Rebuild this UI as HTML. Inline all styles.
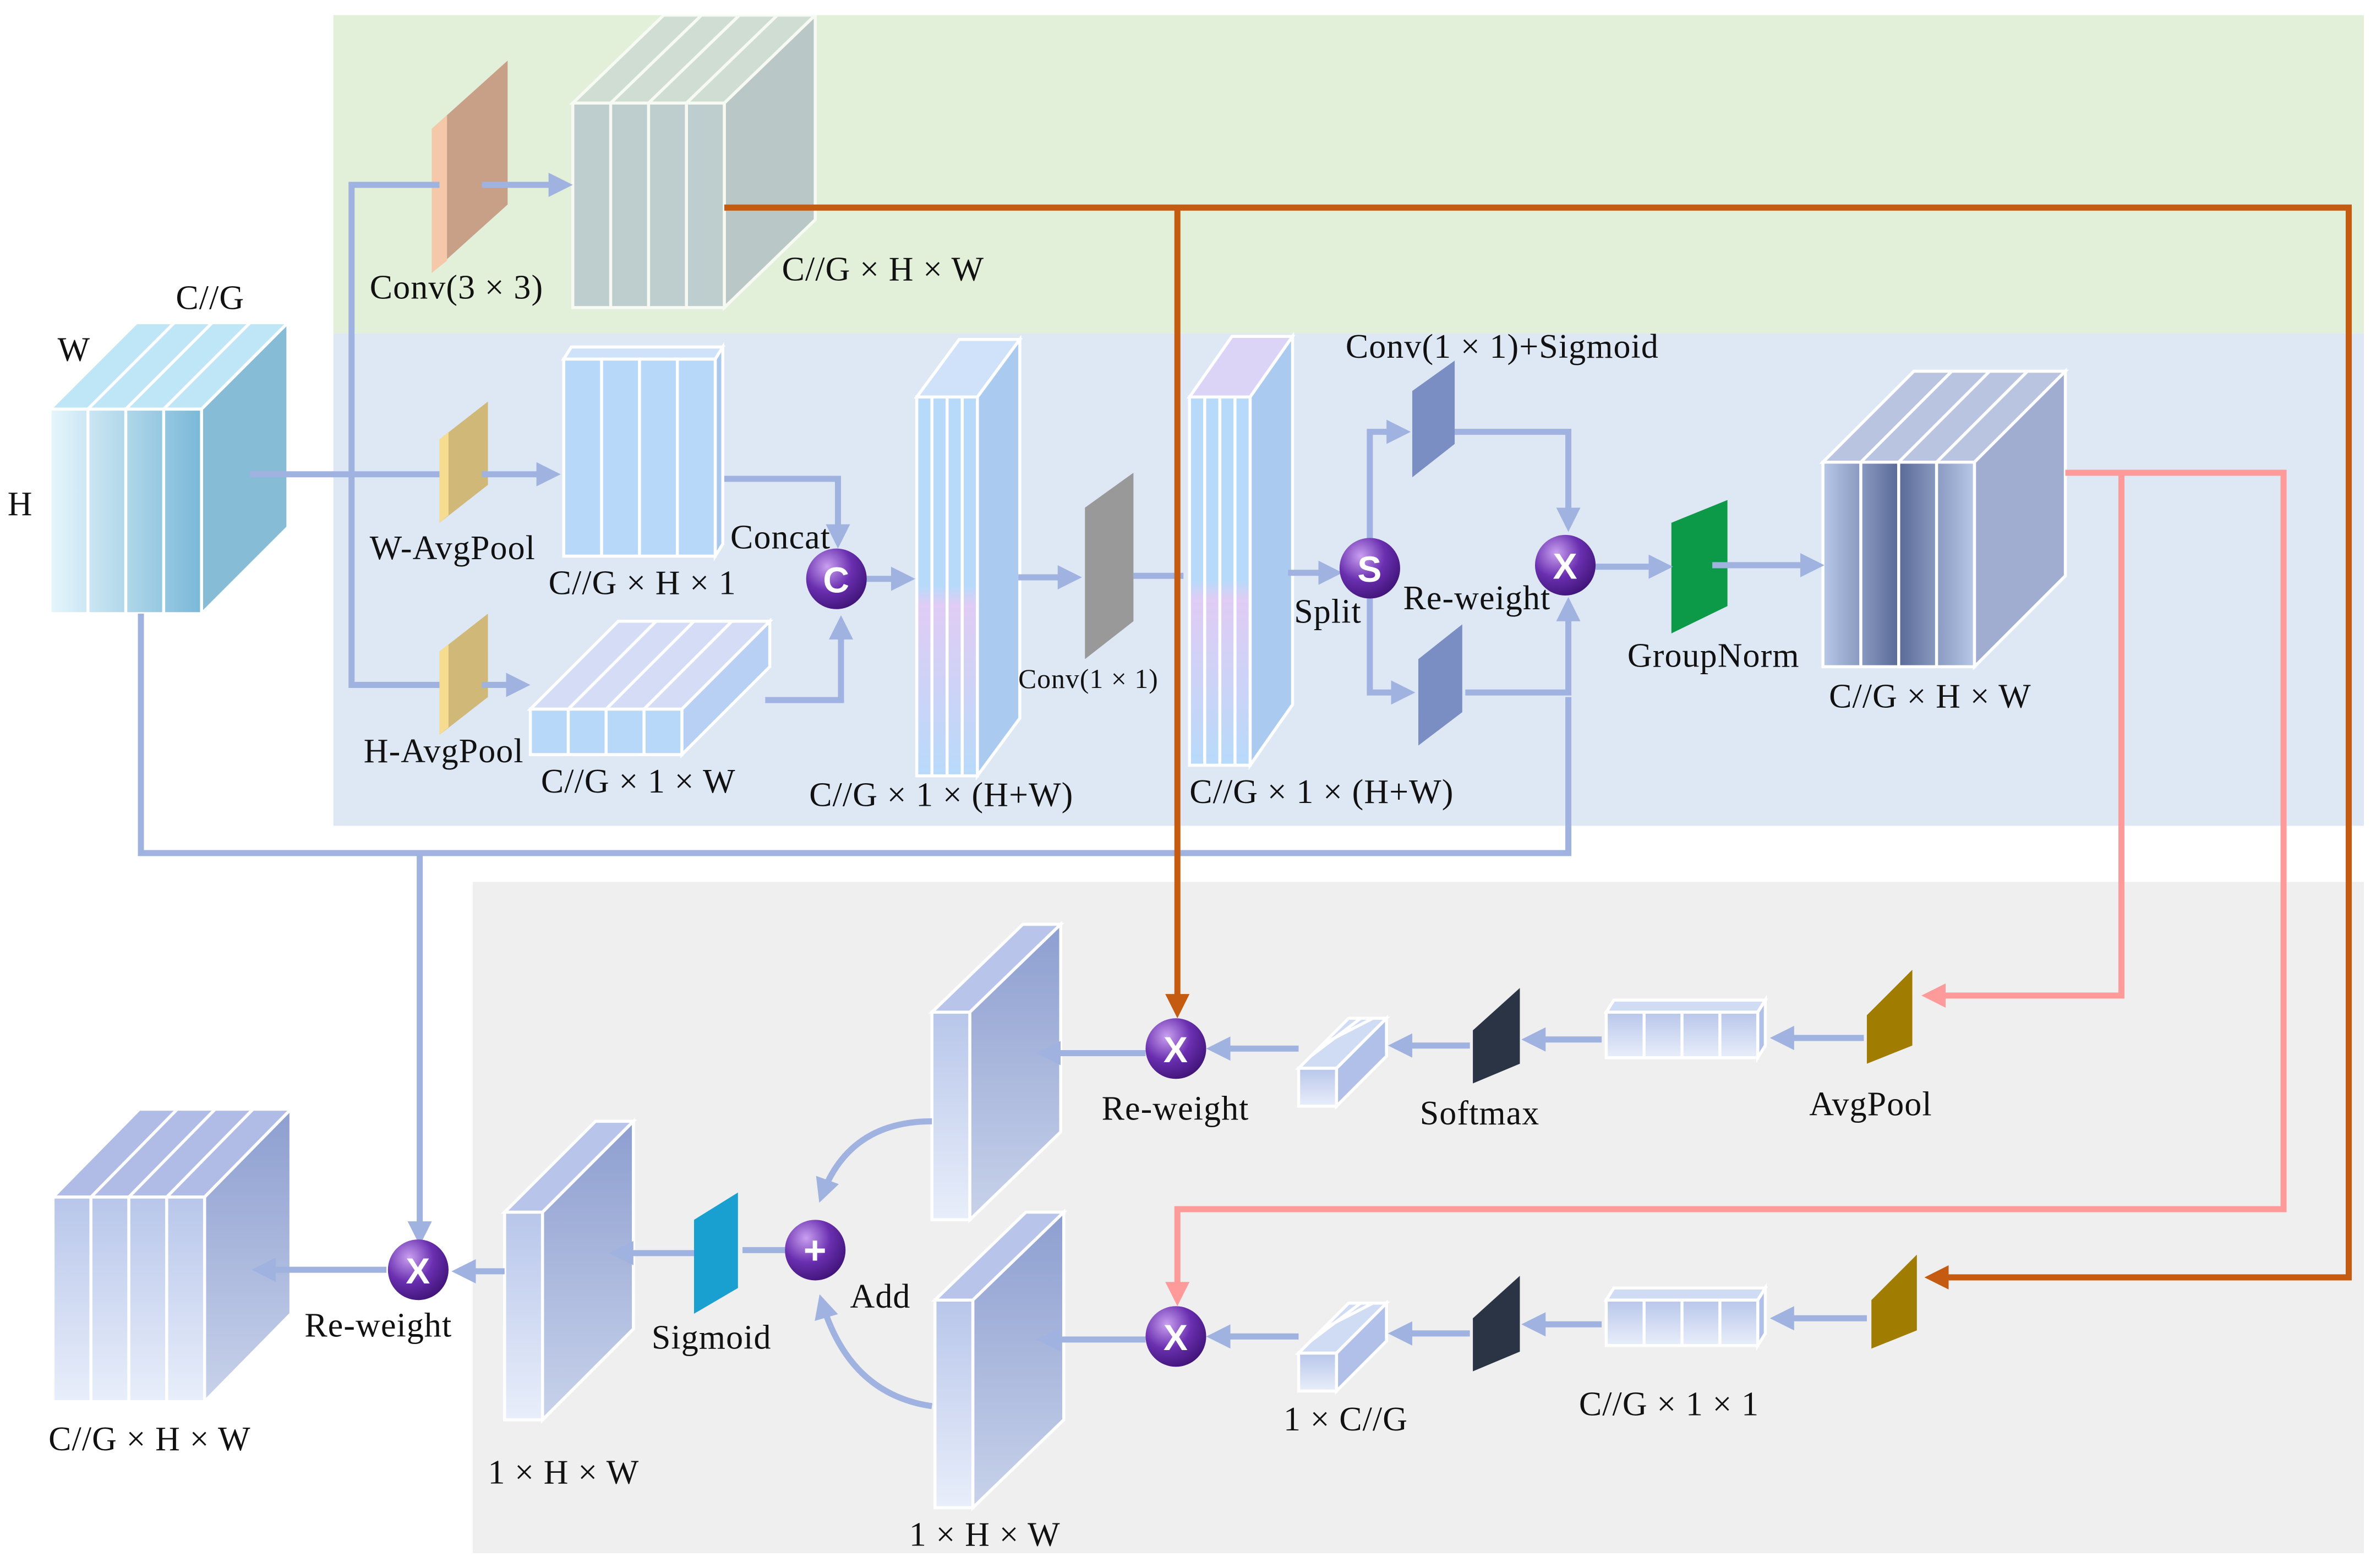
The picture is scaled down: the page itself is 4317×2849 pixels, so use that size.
<!DOCTYPE html>
<html><head><meta charset="utf-8"><style>html,body{margin:0;padding:0;background:#fff}svg{display:block}text{font-family:"Liberation Serif",serif;font-size:22.5px;letter-spacing:0.4px;fill:#111}</style></head><body>
<svg width="4317" height="2849" viewBox="0 0 1568 1034.8" preserveAspectRatio="none" xmlns="http://www.w3.org/2000/svg">
<defs>
<marker id="ab" markerWidth="4" markerHeight="4" refX="3" refY="2" orient="auto" markerUnits="strokeWidth"><path d="M0,0L4,2L0,4z" fill="#a0b2e0"/></marker>
<marker id="ao" markerWidth="4" markerHeight="4" refX="3" refY="2" orient="auto" markerUnits="strokeWidth"><path d="M0,0L4,2L0,4z" fill="#c55a11"/></marker>
<marker id="ap" markerWidth="4" markerHeight="4" refX="3" refY="2" orient="auto" markerUnits="strokeWidth"><path d="M0,0L4,2L0,4z" fill="#ff9a9a"/></marker>
<radialGradient id="cg" cx="0.35" cy="0.3" r="0.8"><stop offset="0" stop-color="#c9a0f0"/><stop offset="0.5" stop-color="#6a2fb0"/><stop offset="1" stop-color="#3a1070"/></radialGradient>
<linearGradient id="inp" x1="0" y1="0" x2="1" y2="0"><stop offset="0" stop-color="#e6f6fc"/><stop offset="1" stop-color="#7ab8d8"/></linearGradient>
<linearGradient id="gn" x1="0" y1="0" x2="1" y2="0"><stop offset="0" stop-color="#b8c8e8"/><stop offset="0.5" stop-color="#5a6a98"/><stop offset="1" stop-color="#b8c8e8"/></linearGradient>
<linearGradient id="pl" x1="0" y1="0" x2="0" y2="1"><stop offset="0" stop-color="#8d9ed0"/><stop offset="1" stop-color="#c8d2ea"/></linearGradient>
<linearGradient id="pf" x1="0" y1="0" x2="0" y2="1"><stop offset="0" stop-color="#b8c6ea"/><stop offset="1" stop-color="#e8eefa"/></linearGradient>
<linearGradient id="tall" x1="0" y1="0" x2="0" y2="1"><stop offset="0" stop-color="#b8dafa"/><stop offset="0.5" stop-color="#b8dafa"/><stop offset="0.55" stop-color="#e0ccf4"/><stop offset="1" stop-color="#b8dafa"/></linearGradient>
</defs>
<rect x="220" y="10" width="1340" height="210" fill="#e2efd9"/>
<rect x="220" y="220" width="1340" height="325" fill="#dee8f4"/>
<rect x="312" y="582" width="1248" height="443" fill="#efefef"/>

<g stroke="#fff" stroke-width="2">
<polygon points="33,270 90,213 190,213 133,270" fill="#bfe6f6"/>
<polygon points="133,270 190,213 190,348 133,405" fill="#86bcd6"/>
<rect x="33" y="270" width="100" height="135" fill="url(#inp)"/>
<path d="M58,270V405M83,270V405M108,270V405M58,270L115,213M83,270L140,213M108,270L165,213" fill="none"/>
</g>
<g stroke="#fff" stroke-width="2" opacity="0.7">
<polygon points="378,68 438,10 538,10 478,68" fill="#c8d6d0"/>
<polygon points="478,68 538,10 538,145 478,203" fill="#a8b8c0"/>
<rect x="378" y="68" width="100" height="135" fill="#b0c0c8"/>
<path d="M403,68V203M428,68V203M453,68V203M403,68L463,10M428,68L488,10M453,68L513,10" fill="none"/>
</g>
<g stroke="#fff" stroke-width="2">
<polygon points="372,237 377,229 477,229 472,237" fill="#cfe2fa"/>
<polygon points="472,237 477,229 477,359 472,367" fill="#a8c8ee"/>
<rect x="372" y="237" width="100" height="130" fill="#b8d8fa"/>
<path d="M397,237V367M422,237V367M447,237V367" fill="none"/>
</g>
<g stroke="#fff" stroke-width="2">
<polygon points="350,468 408,410 508,410 450,468" fill="#d4dcf6"/>
<polygon points="450,468 508,410 508,440 450,498" fill="#b8d0f4"/>
<rect x="350" y="468" width="100" height="30" fill="#b8d8fa"/>
<path d="M375,468V498M400,468V498M425,468V498M375,468L433,410M400,468L458,410M425,468L483,410" fill="none"/>
</g>
<g stroke="#fff" stroke-width="2">
<polygon points="605,262 633,224 673,224 645,262" fill="#cfe2fa"/>
<polygon points="645,262 673,224 673,474 645,512" fill="#aacaf0"/>
<rect x="605" y="262" width="40" height="250" fill="url(#tall)"/>
<path d="M615,262V512M625,262V512M635,262V512" fill="none"/>
</g>
<g stroke="#fff" stroke-width="2">
<polygon points="785,262 813,222 853,222 825,262" fill="#dcd4f6"/>
<polygon points="825,262 853,222 853,465 825,505" fill="#aacaf0"/>
<rect x="785" y="262" width="40" height="243" fill="url(#tall)"/>
<path d="M795,262V505M805,262V505M815,262V505" fill="none"/>
</g>
<g stroke="#fff" stroke-width="2">
<polygon points="1203,305 1263,245 1363,245 1303,305" fill="#b8c4e0"/>
<polygon points="1303,305 1363,245 1363,380 1303,440" fill="#a0acd0"/>
<rect x="1203" y="305" width="100" height="135" fill="url(#gn)"/>
<path d="M1228,305V440M1253,305V440M1278,305V440M1228,305L1288,245M1253,305L1313,245M1278,305L1338,245" fill="none"/>
</g>
<polygon points="285,85 335,40 335,135 285,180" fill="#c8a088"/><polygon points="285,85 295,76 295,172 285,180" fill="#f4c8a8"/>
<polygon points="290,290 322,265 322,320 290,345" fill="#d0b878"/><polygon points="290,290 296,285 296,340 290,345" fill="#f6dc90"/>
<polygon points="290,430 322,405 322,460 290,485" fill="#d0b878"/><polygon points="290,430 296,425 296,480 290,485" fill="#f6dc90"/>
<polygon points="716,335 748,312 748,410 716,435" fill="#999"/>
<polygon points="932,258 960,238 960,293 932,315" fill="#7a8ec4"/>
<polygon points="936,435 965,412 965,470 936,492" fill="#7a8ec4"/>
<polygon points="1103,345 1140,330 1140,400 1103,418" fill="#0c9a48"/>
<polygon points="1232,670 1262,640 1262,690 1232,702" fill="#a07c00"/>
<polygon points="1235,858 1265,828 1265,878 1235,890" fill="#a07c00"/>
<polygon points="972,680 1003,652 1003,702 972,715" fill="#2a3444"/>
<polygon points="972,870 1003,842 1003,892 972,905" fill="#2a3444"/>
<polygon points="458,805 487,787 487,850 458,867" fill="#1aa0d0"/>
<g stroke="#fff" stroke-width="2">
<polygon points="1060,668 1065,660 1165,660 1160,668" fill="#d0dcf4"/><polygon points="1160,668 1165,660 1165,690 1160,698" fill="#b0c0e8"/><rect x="1060" y="668" width="100" height="30" fill="url(#pf)"/><path d="M1085,668V698M1110,668V698M1135,668V698" fill="none"/>
<polygon points="1060,858 1065,850 1165,850 1160,858" fill="#d0dcf4"/><polygon points="1160,858 1165,850 1165,880 1160,888" fill="#b0c0e8"/><rect x="1060" y="858" width="100" height="30" fill="url(#pf)"/><path d="M1085,858V888M1110,858V888M1135,858V888" fill="none"/>
<polygon points="857,705 890,672 915,672 882,705" fill="#d0dcf4"/><polygon points="882,705 915,672 915,697 882,730" fill="#b0c0e8"/><rect x="857" y="705" width="25" height="25" fill="url(#pf)"/><path d="M865,697L898,672M873,689L906,672" fill="none"/>
<polygon points="857,893 890,860 915,860 882,893" fill="#d0dcf4"/><polygon points="882,893 915,860 915,885 882,918" fill="#b0c0e8"/><rect x="857" y="893" width="25" height="25" fill="url(#pf)"/><path d="M865,885L898,860M873,877L906,860" fill="none"/>
<polygon points="615,668 675,610 700,610 640,668" fill="#b8c4ea"/><polygon points="640,668 700,610 700,747 640,805" fill="url(#pl)"/><rect x="615" y="668" width="25" height="137" fill="url(#pf)"/>
<polygon points="617,858 677,800 702,800 642,858" fill="#b8c4ea"/><polygon points="642,858 702,800 702,937 642,995" fill="url(#pl)"/><rect x="617" y="858" width="25" height="137" fill="url(#pf)"/>
<polygon points="333,800 393,740 418,740 358,800" fill="#b8c4ea"/><polygon points="358,800 418,740 418,877 358,937" fill="url(#pl)"/><rect x="333" y="800" width="25" height="137" fill="url(#pf)"/>
<polygon points="35,790 92,732 192,732 135,790" fill="#b0bce6"/><polygon points="135,790 192,732 192,867 135,925" fill="url(#pl)"/><rect x="35" y="790" width="100" height="135" fill="url(#pf)"/>
<path d="M60,790V925M85,790V925M110,790V925M60,790L117,732M85,790L142,732M110,790L167,732" fill="none"/>
</g>

<g fill="none" stroke="#a0b2e0" stroke-width="4">
<path d="M165,313H290"/><path d="M318,313H366" marker-end="url(#ab)"/>
<path d="M290,122H232V452H290"/><path d="M318,122H374" marker-end="url(#ab)"/><path d="M318,452H346" marker-end="url(#ab)"/>
<path d="M478,316H553V358" marker-end="url(#ab)"/><path d="M505,462H555V410" marker-end="url(#ab)"/>
<path d="M572,382H600" marker-end="url(#ab)"/><path d="M672,381H710" marker-end="url(#ab)"/><path d="M748,380H781"/>
<path d="M850,378H882" marker-end="url(#ab)"/>
<path d="M904,355V285H927" marker-end="url(#ab)"/><path d="M904,395V457H930" marker-end="url(#ab)"/>
<path d="M960,285H1035V347" marker-end="url(#ab)"/><path d="M967,457H1035V398" marker-end="url(#ab)"/>
<path d="M93,405V563H1035V460"/>
<path d="M1053,374H1100" marker-end="url(#ab)"/><path d="M1130,373H1200" marker-end="url(#ab)"/>
<path d="M277,563V818" marker-end="url(#ab)"/>
<path d="M1230,685H1172" marker-end="url(#ab)"/><path d="M1057,686H1008" marker-end="url(#ab)"/><path d="M970,690H920" marker-end="url(#ab)"/><path d="M857,692H800" marker-end="url(#ab)"/><path d="M756,695H688" marker-end="url(#ab)"/>
<path d="M1232,870H1172" marker-end="url(#ab)"/><path d="M1057,874H1008" marker-end="url(#ab)"/><path d="M970,880H920" marker-end="url(#ab)"/><path d="M857,882H800" marker-end="url(#ab)"/><path d="M756,884H688" marker-end="url(#ab)"/>
<path d="M615,740Q560,740 542,790" marker-end="url(#ab)"/><path d="M615,928Q560,920 542,858" marker-end="url(#ab)"/>
<path d="M518,825H490"/><path d="M458,827H406" marker-end="url(#ab)"/>
<path d="M333,839H302" marker-end="url(#ab)"/><path d="M255,838H170" marker-end="url(#ab)"/>
</g>
<g fill="none" stroke="#c55a11" stroke-width="4">
<path d="M478,137H1550V843H1274" marker-end="url(#ao)"/><path d="M777,137V668" marker-end="url(#ao)"/>
</g>
<g fill="none" stroke="#ff9a9a" stroke-width="4">
<path d="M1363,312H1507V798H777V858" marker-end="url(#ap)"/><path d="M1400,312V657H1272" marker-end="url(#ap)"/>
</g>

<g text-anchor="middle">
<circle cx="552" cy="382" r="20" fill="url(#cg)"/><text x="552" y="391" style="fill:#fff;font-family:'Liberation Sans',sans-serif;font-size:24px;font-weight:bold">C</text>
<circle cx="904" cy="375" r="20" fill="url(#cg)"/><text x="904" y="384" style="fill:#fff;font-family:'Liberation Sans',sans-serif;font-size:24px;font-weight:bold">S</text>
<circle cx="1033" cy="373" r="20" fill="url(#cg)"/><text x="1033" y="382" style="fill:#fff;font-family:'Liberation Sans',sans-serif;font-size:24px;font-weight:bold">X</text>
<circle cx="776" cy="692" r="20" fill="url(#cg)"/><text x="776" y="701" style="fill:#fff;font-family:'Liberation Sans',sans-serif;font-size:24px;font-weight:bold">X</text>
<circle cx="776" cy="882" r="20" fill="url(#cg)"/><text x="776" y="891" style="fill:#fff;font-family:'Liberation Sans',sans-serif;font-size:24px;font-weight:bold">X</text>
<circle cx="538" cy="825" r="20" fill="url(#cg)"/><text x="538" y="834" style="fill:#fff;font-family:'Liberation Sans',sans-serif;font-size:26px;font-weight:bold">+</text>
<circle cx="276" cy="838" r="20" fill="url(#cg)"/><text x="276" y="847" style="fill:#fff;font-family:'Liberation Sans',sans-serif;font-size:24px;font-weight:bold">X</text>
</g>

<text x="116" y="204">C//G</text><text x="38" y="238">W</text><text x="5" y="340">H</text>
<text x="244" y="197">Conv(3 × 3)</text><text x="516" y="185">C//G × H × W</text>
<text x="244" y="369">W-AvgPool</text><text x="362" y="392">C//G × H × 1</text><text x="482" y="362">Concat</text>
<text x="240" y="503">H-AvgPool</text><text x="357" y="523">C//G × 1 × W</text>
<text x="534" y="532">C//G × 1 × (H+W)</text><text x="672" y="454" style="font-size:18px">Conv(1 × 1)</text>
<text x="785" y="530">C//G × 1 × (H+W)</text><text x="888" y="236">Conv(1 × 1)+Sigmoid</text>
<text x="854" y="411">Split</text><text x="926" y="402">Re-weight</text><text x="1074" y="440">GroupNorm</text><text x="1207" y="467">C//G × H × W</text>
<text x="727" y="739">Re-weight</text><text x="937" y="742">Softmax</text><text x="1194" y="736">AvgPool</text>
<text x="561" y="863">Add</text><text x="430" y="890">Sigmoid</text><text x="201" y="882">Re-weight</text>
<text x="32" y="957">C//G × H × W</text><text x="322" y="979">1 × H × W</text><text x="600" y="1020">1 × H × W</text>
<text x="847" y="944">1 × C//G</text><text x="1042" y="934">C//G × 1 × 1</text>
</svg>
</body></html>
